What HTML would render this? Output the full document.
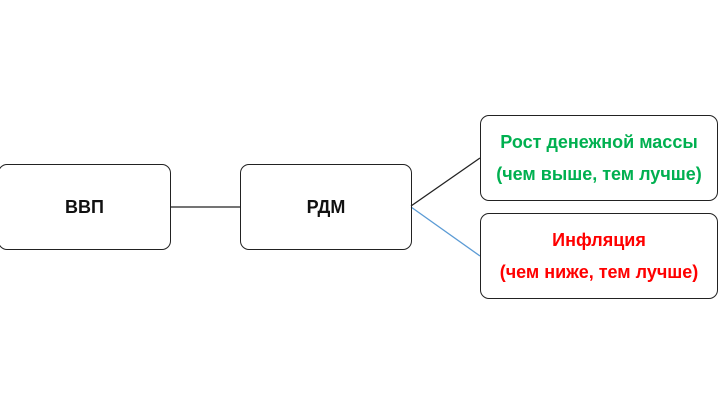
<!DOCTYPE html>
<html><head><style>
body{margin:0;width:720px;height:414px;background:#fff;position:relative;overflow:hidden;font-family:"Liberation Sans",sans-serif;font-weight:bold}
.b{position:absolute;border:1.5px solid #222;border-radius:9px;box-sizing:border-box;display:flex;flex-direction:column;align-items:center;justify-content:center;font-size:18px;color:#111;text-align:center;white-space:nowrap}
.b div{line-height:32px}
</style></head><body>
<svg style="position:absolute;left:0;top:0" width="720" height="414">
<line x1="171" y1="207" x2="240" y2="207" stroke="#222" stroke-width="1.3"/>
<line x1="411" y1="206" x2="480" y2="158" stroke="#222" stroke-width="1.3"/>
<line x1="411" y1="207" x2="480" y2="256" stroke="#5b9bd5" stroke-width="1.3"/>
</svg>
<div class="b" style="left:-2px;top:164px;width:173px;height:86px">ВВП</div>
<div class="b" style="left:240px;top:164px;width:172px;height:86px">РДМ</div>
<div class="b" style="left:480px;top:115px;width:238px;height:86px;color:#00b050"><div>Рост денежной массы</div><div>(чем выше, тем лучше)</div></div>
<div class="b" style="left:480px;top:213px;width:238px;height:86px;color:#ff0000"><div>Инфляция</div><div>(чем ниже, тем лучше)</div></div>
</body></html>
